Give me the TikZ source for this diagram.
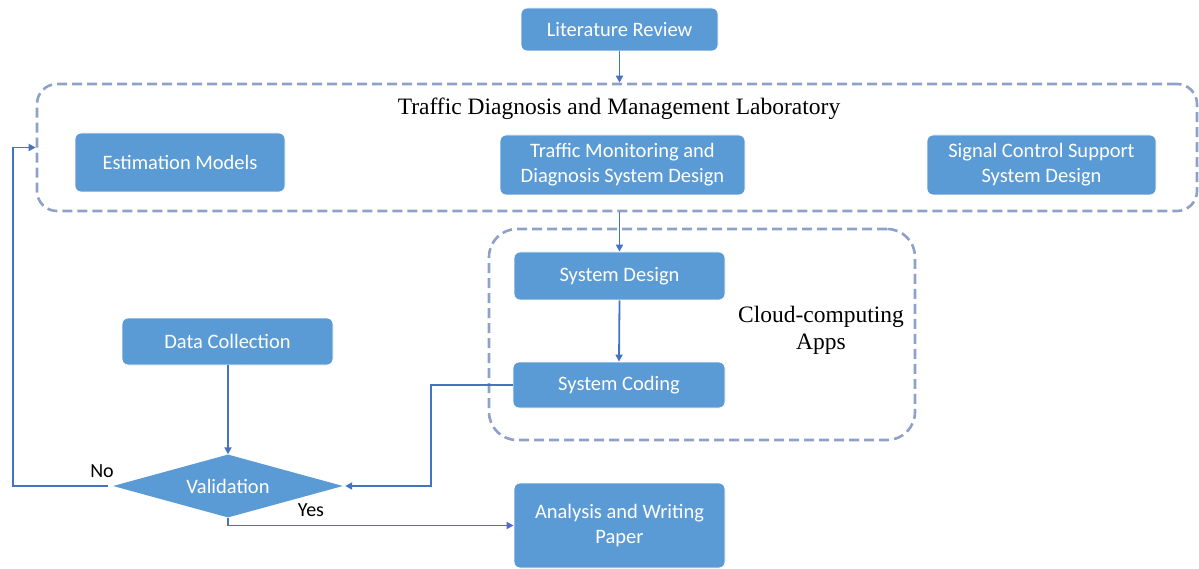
\documentclass[tikz,border=0pt]{standalone}
\usepackage{fontspec}
\setmainfont{Liberation Serif}
\newfontfamily\boxfont{Carlito}
\usetikzlibrary{shapes.geometric,arrows.meta}
\definecolor{boxblue}{RGB}{91,155,213}
\definecolor{linkblue}{RGB}{68,114,196}
\definecolor{groupline}{RGB}{143,161,201}
\tikzset{
  procbox/.style={rectangle, rounded corners=6pt, fill=boxblue, draw=white, line width=0.8pt,
    text=white, font=\boxfont\fontsize{20.5}{25}\selectfont, align=center, inner sep=0pt},
  groupbox/.style={rectangle, draw=groupline, line width=2.6pt, dash pattern=on 10pt off 5pt},
  link/.style={draw=linkblue, line width=1.8pt, -{Triangle[length=7pt,width=7pt]}},
  grouptitle/.style={font=\fontsize{23.5}{27}\selectfont, align=center},
  branch/.style={font=\boxfont\fontsize{20}{24}\selectfont, text=black}
}
\begin{document}
\begin{tikzpicture}[x=1pt,y=-1pt]
\useasboundingbox (0,0) rectangle (1199,569);

% group frames
\node[groupbox, rounded corners=20pt, minimum width=1160pt, minimum height=127pt] (lab) at (617,147.5) {};
\node[groupbox, rounded corners=28pt, minimum width=426pt, minimum height=211pt] (cloud) at (702,334.5) {};

% group titles
\node[grouptitle] (labtitle) at (619,109) {Traffic Diagnosis and Management Laboratory};
\node[grouptitle] (cloudtitle) at (821,330) {Cloud-computing\\Apps};

% process boxes
\node[procbox, minimum width=197pt, minimum height=43pt] (lit) at (619.5,29.5) {Literature Review};
\node[procbox, minimum width=210pt, minimum height=59pt] (est) at (180,162.5) {Estimation Models};
\node[procbox, minimum width=245pt, minimum height=60pt] (tmd) at (622.5,165) {Traffic Monitoring and\\Diagnosis System Design};
\node[procbox, minimum width=229pt, minimum height=60pt] (scs) at (1041.5,165) {Signal Control Support\\System Design};
\node[procbox, minimum width=211pt, minimum height=48pt] (sd) at (619.5,276) {System Design};
\node[procbox, minimum width=212pt, minimum height=46pt] (sc) at (619,385) {System Coding};
\node[procbox, minimum width=211pt, minimum height=47pt] (dc) at (227.5,341.5) {Data Collection};
\node[procbox, minimum width=211pt, minimum height=85pt] (aw) at (619.5,525.5) {Analysis and Writing\\Paper};
\node[diamond, shape aspect=3.65, fill=boxblue, text=white, font=\boxfont\fontsize{20.5}{24}\selectfont,
      minimum width=230pt, minimum height=63pt, inner sep=0pt] (val) at (228,486) {Validation};

% connectors
\draw[link] (lit.south) -- (lit.south |- lab.north);
\draw[link] (sd.north |- lab.south) -- (sd.north);
\draw[link] (sd.south) -- (sc.north);
\draw[link] (dc.south -| val.north) -- (val.north);
\draw[link] (sc.west) -- ++(-82,0) |- ([xshift=2pt]val.east);
\draw[link] ([xshift=-5pt]val.west) -- ++(-95,0) |- (lab.west);
\draw[link] (val.south) |- (aw.west);

% branch labels
\node[branch] (nolabel) at (102,471) {No};
\node[branch] (yeslabel) at (311,510) {Yes};
\end{tikzpicture}
\end{document}
